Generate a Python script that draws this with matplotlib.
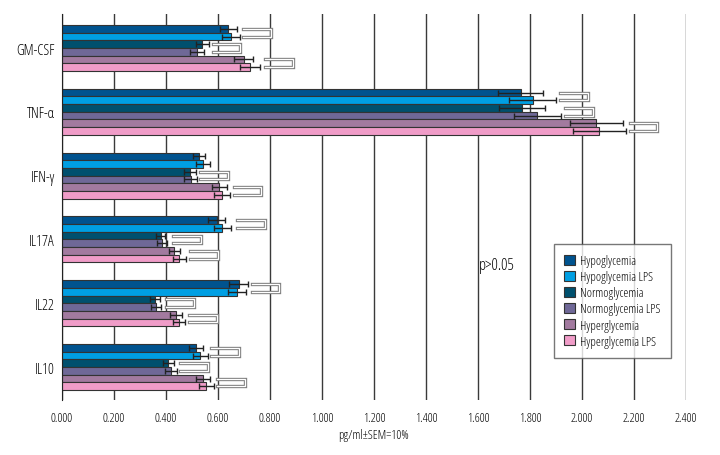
import matplotlib
matplotlib.use("Agg")
import matplotlib.pyplot as plt
import matplotlib.patheffects as pe
import numpy as np

plt.rcParams['font.family'] = ['Open Sans', 'DejaVu Sans']
plt.rcParams['font.stretch'] = 'condensed'

categories = ['GM-CSF', 'TNF-α', 'IFN-γ', 'IL17A', 'IL22', 'IL10']
series = ['Hypoglycemia', 'Hypoglycemia LPS', 'Normoglycemia',
          'Normoglycemia LPS', 'Hyperglycemia', 'Hyperglycemia LPS']
colors = ['#00538f', '#009fe3', '#00506e', '#6f6897', '#a27a9f', '#f09cc8']

hypo = [0.641, 1.764, 0.526, 0.596, 0.680, 0.518]
hypo_lps = [0.650, 1.810, 0.542, 0.618, 0.674, 0.532]
normo = [0.541, 1.769, 0.494, 0.380, 0.358, 0.410]
normo_lps = [0.520, 1.829, 0.497, 0.385, 0.363, 0.420]
hyper = [0.699, 2.055, 0.605, 0.433, 0.440, 0.542]
hyper_lps = [0.724, 2.067, 0.615, 0.451, 0.451, 0.555]

err_hypo = [0.032, 0.087, 0.023, 0.032, 0.035, 0.027]
err_hypo_lps = [0.034, 0.089, 0.027, 0.034, 0.034, 0.029]
err_normo = [0.024, 0.087, 0.022, 0.018, 0.018, 0.021]
err_normo_lps = [0.027, 0.092, 0.025, 0.020, 0.018, 0.022]
err_hyper = [0.035, 0.101, 0.029, 0.022, 0.023, 0.027]
err_hyper_lps = [0.037, 0.103, 0.031, 0.025, 0.024, 0.029]

# brackets joining each pair (no LPS / LPS), start and end on x; None = no bracket
brackets = [
    [(0.697, 0.804), (0.582, 0.687), (0.781, 0.890)],
    [(1.917, 2.022), (1.936, 2.042), (2.183, 2.288)],
    [None, (0.531, 0.641), (0.663, 0.767)],
    [(0.674, 0.781), (0.427, 0.535), (0.492, 0.600)],
    [(0.732, 0.836), (0.401, 0.509), (0.488, 0.596)],
    [(0.574, 0.682), (0.454, 0.562), (0.597, 0.704)],
]

values = [hypo, hypo_lps, normo, normo_lps, hyper, hyper_lps]
errors = [err_hypo, err_hypo_lps, err_normo, err_normo_lps, err_hyper, err_hyper_lps]

fig = plt.figure(figsize=(7.2, 4.56), dpi=100)
ax = fig.add_axes([0.0857, 0.1206, 0.8671, 0.8465])

y = np.arange(len(categories))
h = 0.12
offsets = (np.arange(6) - 2.5) * h

for i in range(6):
    ax.barh(y + offsets[i], values[i], height=h, color=colors[i],
            edgecolor='#333333', linewidth=0.8, label=series[i], zorder=2)
    ax.errorbar(values[i], y + offsets[i], xerr=errors[i], fmt='none',
                ecolor='#222222', elinewidth=1, capsize=2.5, capthick=1, zorder=3)

for g, pairs in enumerate(brackets):
    for p, br in enumerate(pairs):
        if br is None:
            continue
        x0, x1 = br
        yt = y[g] + offsets[2 * p]
        yb = y[g] + offsets[2 * p + 1]
        ax.plot([x0, x1, x1, x0], [yt, yt, yb, yb], color='white', lw=0.9,
                zorder=4, solid_joinstyle='miter',
                path_effects=[pe.Stroke(linewidth=2.4, foreground='#808080'), pe.Normal()])

ax.text(1.605, 3.40, 'p>0.05', fontsize=11.5, va='center', ha='left', color='black')

ax.set_xlim(0, 2.4)
ax.set_ylim(5.517, -0.533)
ax.set_xticks(np.arange(0, 2.41, 0.2))
ax.set_xticklabels([f'{v:.3f}' for v in np.arange(0, 2.41, 0.2)], fontsize=9)
ax.set_yticks(y)
ax.set_yticklabels(categories, fontsize=10.5)
ax.tick_params(length=0, pad=5, labelcolor='black')
ax.tick_params(axis='x', pad=8)
ax.grid(axis='x', color='#3a3a3a', linewidth=1, zorder=0)
ax.set_axisbelow(True)
for s in ['top', 'right', 'bottom']:
    ax.spines[s].set_visible(False)
ax.spines['left'].set_color('#222222')
ax.set_xlabel('pg/ml±SEM=10%', fontsize=9, labelpad=3, color='black')

leg = ax.legend(loc='upper left', bbox_to_anchor=(0.7886, 0.404), borderaxespad=0,
                fancybox=False, fontsize=9, handlelength=0.85, handleheight=0.85,
                handletextpad=0.45, labelspacing=0.25, borderpad=0.8)
leg.get_frame().set_edgecolor('#555555')
leg.get_frame().set_linewidth(1)
for t in leg.get_texts():
    t.set_color('black')

fig.savefig('out.png', dpi=100)
